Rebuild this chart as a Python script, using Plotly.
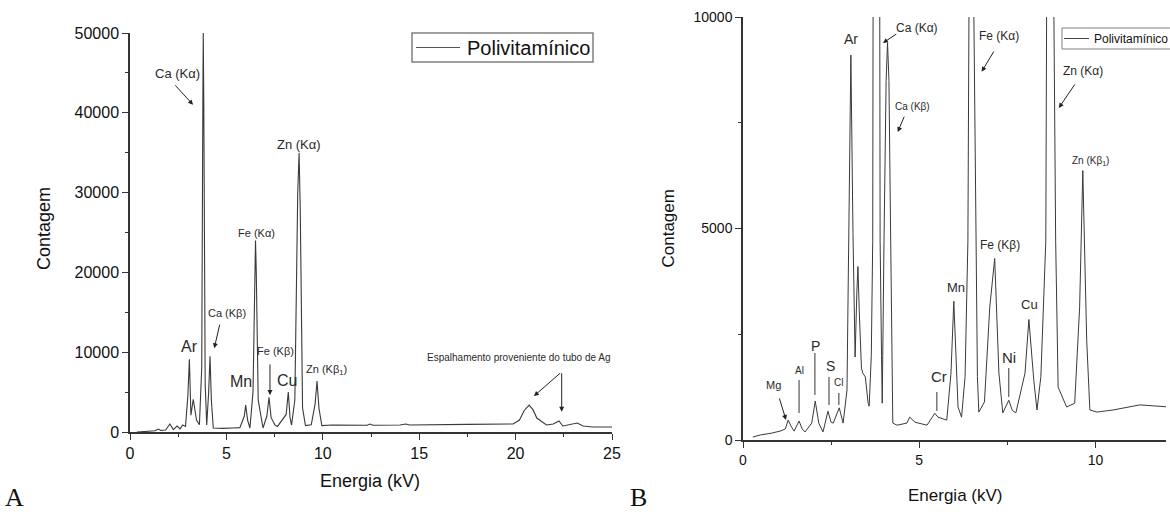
import plotly.graph_objects as go

# ---------------- data ----------------
# Panel A: full spectrum 0-25 keV
energy_a = [0.36, 0.9, 1.3, 1.47, 1.6, 1.85, 2.07, 2.25, 2.44, 2.6, 2.73, 2.88,
            3.0, 3.08, 3.16, 3.28, 3.38, 3.45, 3.60, 3.72, 3.78, 3.80, 3.83, 3.90,
            3.98, 4.08, 4.15, 4.22, 4.32, 4.8, 5.35, 5.7, 5.93, 6.0, 6.1, 6.22,
            6.38, 6.47, 6.51, 6.55, 6.65, 6.9, 7.1, 7.21, 7.32, 7.52, 7.65, 8.1,
            8.21, 8.30, 8.38, 8.55, 8.70, 8.77, 8.83, 8.95, 9.1, 9.4, 9.6, 9.70,
            9.8, 9.95, 10.5, 12.3, 12.45, 12.6, 14.0, 14.3, 14.5, 17.5, 19.5, 19.87,
            20.2, 20.45, 20.7, 20.9, 21.1, 21.6, 21.95, 22.25, 22.45, 22.7, 23.2, 23.5,
            24.0, 25.0]
counts_a = [0, 60, 150, 375, 200, 250, 1000, 300, 750, 400, 875, 700,
            4500, 9100, 2100, 4100, 2200, 1500, 900, 8000, 42000, 50000, 40000, 6000,
            875, 5000, 9500, 4000, 500, 450, 500, 550, 2000, 3375, 1500, 500,
            5000, 20000, 24000, 20000, 4000, 500, 2000, 4350, 1800, 875, 700, 2200,
            5000, 1800, 875, 4000, 30000, 35000, 28000, 3000, 800, 900, 3500, 6400,
            3000, 800, 875, 850, 1000, 850, 875, 1000, 875, 950, 950, 1000,
            1500, 2700, 3375, 2800, 1750, 875, 1000, 1375, 750, 875, 1125, 750,
            625, 625]

# Panel B: detail 0-12 keV
energy_b = [0.28, 0.5, 0.8, 1.05, 1.2, 1.28, 1.38, 1.45, 1.59, 1.68, 1.76, 1.95,
            2.05, 2.15, 2.27, 2.41, 2.50, 2.56, 2.73, 2.84, 2.95, 3.00, 3.06, 3.12,
            3.18, 3.23, 3.26, 3.30, 3.36, 3.40, 3.47, 3.55, 3.58, 3.64, 3.68, 3.69,
            3.79, 3.88, 3.89, 3.93, 3.95, 4.00, 4.06, 4.10, 4.14, 4.19, 4.25, 4.37,
            4.65, 4.73, 4.88, 5.22, 5.44, 5.53, 5.78, 5.90, 5.98, 6.10, 6.20, 6.30,
            6.38, 6.41, 6.48, 6.55, 6.61, 6.65, 6.69, 6.85, 7.00, 7.14, 7.26, 7.37,
            7.54, 7.64, 7.74, 8.00, 8.11, 8.25, 8.34, 8.45, 8.59, 8.61, 8.72, 8.82,
            8.87, 8.94, 9.00, 9.18, 9.41, 9.55, 9.64, 9.75, 9.84, 10.04, 10.5, 11.26,
            12.1]
counts_b = [70, 120, 160, 210, 260, 470, 300, 210, 450, 260, 190, 400,
            920, 400, 190, 680, 420, 400, 760, 400, 1180, 4900, 9100, 4900,
            1960, 3500, 4100, 3000, 1700, 1580, 1490, 870, 800, 2000, 4700, 10000,
            50000, 10000, 4700, 2000, 870, 4700, 8500, 9390, 8500, 4700, 400, 350,
            400, 540, 420, 350, 630, 540, 470, 1580, 3280, 780, 540, 1500,
            4700, 10000, 23800, 10000, 4700, 1500, 660, 900, 3140, 4290, 1580, 640,
            940, 700, 640, 1580, 2850, 1410, 710, 1500, 4700, 10000, 35000, 10000,
            4700, 1250, 1130, 780, 870, 3140, 6370, 2360, 710, 660, 710, 830,
            780]

series_name = "Polivitamínico"

a_x_ticks = [0, 5, 10, 15, 20, 25]
a_y_ticks = [0, 10000, 20000, 30000, 40000, 50000]
b_x_ticks = [0, 5, 10]
b_y_ticks = [0, 5000, 10000]

# peak labels: (text, energy, count, font size)
labels_a = [
    ("Ca (Kα)", 2.44, 44875, 13), ("Zn (Kα)", 8.77, 36000, 13),
    ("Fe (Kα)", 6.54, 25000, 11), ("Ca (Kβ)", 5.02, 14875, 11),
    ("Ar", 3.06, 10690, 16), ("Mn", 5.76, 6310, 16),
    ("Fe (Kβ)", 7.57, 10125, 11), ("Cu", 8.14, 6500, 16),
    ("Zn (Kβ<sub>1</sub>)", 10.17, 7750, 11),
    ("Espalhamento proveniente do tubo de Ag", 20.15, 9375, 10),
]
arrows_a = [  # (tail E, tail count, head E, head count)
    (2.28, 43625, 3.27, 41000), (4.67, 13625, 4.37, 10500),
    (7.26, 8660, 7.26, 4625), (22.39, 7540, 20.95, 4500),
    (22.39, 7540, 22.39, 2540),
]
labels_b = [
    ("Ar", 3.06, 9490, 14), ("Ca (Kα)", 4.95, 9750, 12),
    ("Ca (Kβ)", 4.82, 7895, 10), ("Fe (Kα)", 7.26, 9550, 12),
    ("Zn (Kα)", 9.64, 8725, 12), ("Zn (Kβ<sub>1</sub>)", 9.87, 6595, 10),
    ("Fe (Kβ)", 7.29, 4610, 12), ("Mn", 6.04, 3617, 13),
    ("Cu", 8.14, 3215, 13), ("Ni", 7.56, 1940, 15), ("Cr", 5.56, 1500, 15),
    ("Mg", 0.865, 1290, 11), ("Al", 1.60, 1643, 10), ("P", 2.07, 2222, 14),
    ("S", 2.47, 1750, 14), ("Cl", 2.72, 1370, 10),
]
arrows_b = [
    (4.39, 9620, 3.97, 9385), (4.59, 7680, 4.39, 7280),
    (7.14, 9220, 6.77, 8705), (9.44, 8440, 8.96, 7850),
    (1.02, 1017, 1.22, 473),
]
lines_b = [  # (E, top count, bottom count)
    (7.54, 1700, 1017), (5.50, 1135, 686), (1.59, 1418, 638),
    (2.04, 2057, 1064), (2.44, 1490, 827), (2.72, 1111, 827),
]

# ---------------- figure ----------------
W, H = 1170, 512
FONT = "Arial, Liberation Sans, sans-serif"
SERIF = "Liberation Serif, Times New Roman, serif"
LINE = "#3a3a3a"
AX = "#333333"

def px(x):
    return x / W

def py(y):
    return 1 - y / H

fig = go.Figure()
fig.add_trace(go.Scatter(x=energy_a, y=counts_a, mode="lines", name=series_name,
                         line=dict(color=LINE, width=1.1), xaxis="x", yaxis="y",
                         showlegend=False))
fig.add_trace(go.Scatter(x=energy_b, y=counts_b, mode="lines", name=series_name,
                         line=dict(color=LINE, width=1.0), xaxis="x2", yaxis="y2",
                         showlegend=False))

def axis(domain, rng, ticks, minor_dtick, size, anchor):
    return dict(domain=domain, range=rng, anchor=anchor, tickvals=ticks,
                showline=True, linecolor=AX, linewidth=1.5, ticks="outside",
                ticklen=6, tickwidth=1.3, tickcolor=AX, showgrid=False,
                zeroline=False, tickformat="d",
                tickfont=dict(family=FONT, size=size, color="#111"),
                minor=dict(ticks="outside", ticklen=3, tickwidth=1.1,
                           tickcolor=AX, dtick=minor_dtick, showgrid=False))

fig.update_layout(
    width=W, height=H,
    margin=dict(l=0, r=0, t=0, b=0, autoexpand=False),
    paper_bgcolor="white", plot_bgcolor="white",
    xaxis=axis([px(130), px(612)], [0, 25], a_x_ticks, 2.5, 16, "y"),
    yaxis=axis([py(432), py(33)], [0, 50000], a_y_ticks, 5000, 16, "x"),
    xaxis2=axis([px(743), px(1166)], [0, 12], b_x_ticks, 2.5, 14, "y2"),
    yaxis2=axis([py(440), py(17)], [0, 10000], b_y_ticks, 2500, 14, "x2"),
    showlegend=False,
)

ann = []
for t, e, c, s in labels_a:
    ann.append(dict(text=t, x=e, y=c, xref="x", yref="y", showarrow=False,
                    xanchor="center", yanchor="middle",
                    font=dict(family=FONT, size=s, color="#2a2a2a")))
for t, e, c, s in labels_b:
    ann.append(dict(text=t, x=e, y=c, xref="x2", yref="y2", showarrow=False,
                    xanchor="center", yanchor="middle",
                    font=dict(family=FONT, size=s, color="#2a2a2a")))
for te, tc, he, hc in arrows_a:
    ann.append(dict(text="", x=he, y=hc, ax=te, ay=tc, xref="x", yref="y",
                    axref="x", ayref="y", showarrow=True, arrowhead=2,
                    arrowsize=1, arrowwidth=1, arrowcolor="#222"))
for te, tc, he, hc in arrows_b:
    ann.append(dict(text="", x=he, y=hc, ax=te, ay=tc, xref="x2", yref="y2",
                    axref="x2", ayref="y2", showarrow=True, arrowhead=2,
                    arrowsize=1, arrowwidth=1, arrowcolor="#222"))

def paper_text(text, x, y, size, family=FONT, angle=0, xanchor="center"):
    return dict(text=text, x=px(x), y=py(y), xref="paper", yref="paper",
                xanchor=xanchor, yanchor="middle", textangle=angle,
                showarrow=False, font=dict(family=family, size=size, color="#111"))

# axis titles, legends and panel letters
ann += [
    paper_text("Contagem", 44, 229, 18, angle=-90),
    paper_text("Energia (kV)", 370, 481, 18),
    paper_text("Contagem", 667.5, 229, 17, angle=-90),
    paper_text("Energia (kV)", 955, 495, 17),
    paper_text("A", 14, 497, 26, family=SERIF),
    paper_text("B", 639, 497, 26, family=SERIF),
    paper_text(series_name, 465, 47.5, 20, xanchor="left"),
    paper_text(series_name, 1092, 38.5, 12, xanchor="left"),
]
fig.update_layout(annotations=ann)

shapes = []
for e, top, bot in lines_b:
    shapes.append(dict(type="line", xref="x2", yref="y2", x0=e, x1=e, y0=bot, y1=top,
                       line=dict(color="#333", width=1)))
# legend boxes and sample lines
shapes += [
    dict(type="rect", xref="paper", yref="paper", x0=px(412), x1=px(593),
         y0=py(62), y1=py(33), line=dict(color="#808080", width=1.5),
         fillcolor="rgba(0,0,0,0)"),
    dict(type="line", xref="paper", yref="paper", x0=px(416), x1=px(460),
         y0=py(47.5), y1=py(47.5), line=dict(color="#555", width=1)),
    dict(type="rect", xref="paper", yref="paper", x0=px(1062), x1=px(1190),
         y0=py(49), y1=py(28), line=dict(color="#808080", width=1),
         fillcolor="rgba(0,0,0,0)"),
    dict(type="line", xref="paper", yref="paper", x0=px(1064), x1=px(1089),
         y0=py(38.5), y1=py(38.5), line=dict(color="#444", width=1)),
]
fig.update_layout(shapes=shapes)

fig.write_html("out.html", config={"displayModeBar": False},
               post_script="document.body.style.margin='0';"
                           "document.body.style.overflow='hidden';")
